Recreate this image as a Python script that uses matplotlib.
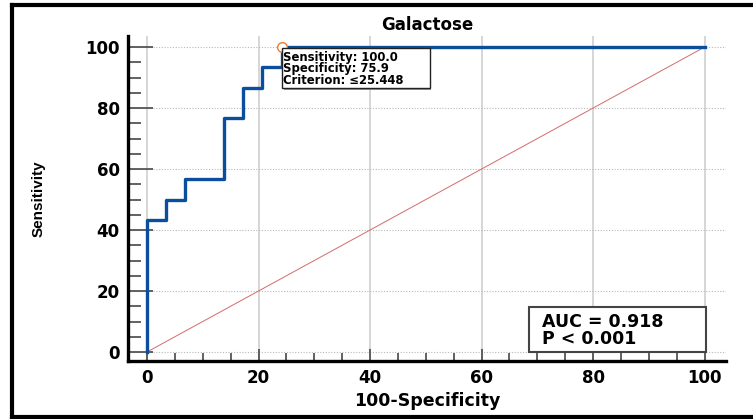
import matplotlib
matplotlib.use("Agg")
import matplotlib.pyplot as plt
from matplotlib.lines import Line2D
from matplotlib.patches import Rectangle
from matplotlib.ticker import MultipleLocator

# ROC curve for galactose (29 negatives, 30 positives)
fpr = [0, 0, 3.45, 3.45, 6.90, 6.90, 13.79, 13.79, 17.24, 17.24, 20.69, 20.69, 24.14, 24.14, 100]
tpr = [0, 43.33, 43.33, 50.0, 50.0, 56.67, 56.67, 76.67, 76.67, 86.67, 86.67, 93.33, 93.33, 100, 100]
ref_line = [0, 100]
cut_x, cut_y = 24.14, 100.0
cut_lines = ["Sensitivity: 100.0", "Specificity: 75.9", "Criterion: \u226425.448"]
auc_lines = ["AUC = 0.918", "P < 0.001"]
xticks = [0, 20, 40, 60, 80, 100]
yticks = [0, 20, 40, 60, 80, 100]

plt.rcParams['font.family'] = ['DejaVu Sans']
plt.rcParams['font.weight'] = 'bold'

fig = plt.figure(figsize=(7.53, 4.19), dpi=100)
ax = fig.add_axes([0.170, 0.1384, 0.794, 0.7756])

# grid: solid verticals, dotted horizontals
for x in xticks:
    ax.axvline(x, color='#d0d0d0', lw=1.2, zorder=0)
for y in yticks:
    ax.axhline(y, color='#b8b8b8', lw=0.8, ls=(0, (1, 1.5)), zorder=0)

ax.plot(ref_line, ref_line, color='#d46a6a', lw=0.7, zorder=2)
ax.plot(fpr, tpr, color='#0b4f9c', lw=2.4, zorder=3)
ax.plot([cut_x], [cut_y], 'o', mfc='white', mec='#f07a30', ms=7, mew=1.0, zorder=4)

# criterion box next to the cut-off point
ax.add_patch(Rectangle((24.5, 85.9), 26.5, 13.4, fc='#999999', ec='none', zorder=5))
ax.add_patch(Rectangle((24.2, 86.4), 26.5, 13.4, fc='white', ec='#222222', lw=1.0, zorder=6))
for i, line in enumerate(cut_lines):
    ax.text(24.4, 96.6 - i * 3.8, line, fontsize=8.4, fontweight='bold', va='center', ha='left',
            zorder=7)

# AUC box
ax.add_patch(Rectangle((68.5, 0.1), 31.7, 14.5, fc='white', ec='#444444', lw=1.5, zorder=5))
for i, line in enumerate(auc_lines):
    ax.text(70.9, 10.0 - i * 5.7, line, fontsize=12.5, fontweight='bold', va='center', ha='left',
            zorder=6)

ax.set_xlim(-3.4, 103.8)
ax.set_ylim(-2.95, 103.6)
ax.set_xticks(xticks)
ax.set_yticks(yticks)
ax.xaxis.set_minor_locator(MultipleLocator(5))
ax.yaxis.set_minor_locator(MultipleLocator(5))
ax.tick_params(axis='y', which='major', direction='in', length=18, width=1.3, color='#555555',
               labelsize=12, pad=6)
ax.tick_params(axis='y', which='minor', direction='in', length=9, width=1.3, color='#555555')
ax.tick_params(axis='x', which='major', direction='in', length=9, width=1.3, color='#555555',
               labelsize=12, pad=6)
ax.tick_params(axis='x', which='minor', direction='in', length=6, width=1.3, color='#555555')
for lab in ax.get_xticklabels() + ax.get_yticklabels():
    lab.set_fontweight('bold')

for side in ['top', 'right']:
    ax.spines[side].set_visible(False)
for side in ['left', 'bottom']:
    ax.spines[side].set_linewidth(2.4)
    ax.spines[side].set_color('black')

ax.set_title("Galactose", fontsize=12, fontweight='bold', pad=4)
ax.set_xlabel("100-Specificity", fontsize=12.5, fontweight='bold', labelpad=3)
fig.text(0.051, 0.526, "Sensitivity", rotation=90, ha='center', va='center', fontsize=11,
         fontweight='bold',
         family=['Liberation Sans Narrow', 'DejaVu Sans Condensed', 'Liberation Sans'])

# outer frame (top, left, bottom)
fig.add_artist(Line2D([0.016, 1.0], [0.988, 0.988], color='black', lw=3.0, transform=fig.transFigure))
fig.add_artist(Line2D([0.016, 0.016], [0.988, 0.005], color='black', lw=3.0, transform=fig.transFigure))
fig.add_artist(Line2D([0.016, 1.0], [0.005, 0.005], color='black', lw=3.0, transform=fig.transFigure))

fig.savefig("out.png", dpi=100)
